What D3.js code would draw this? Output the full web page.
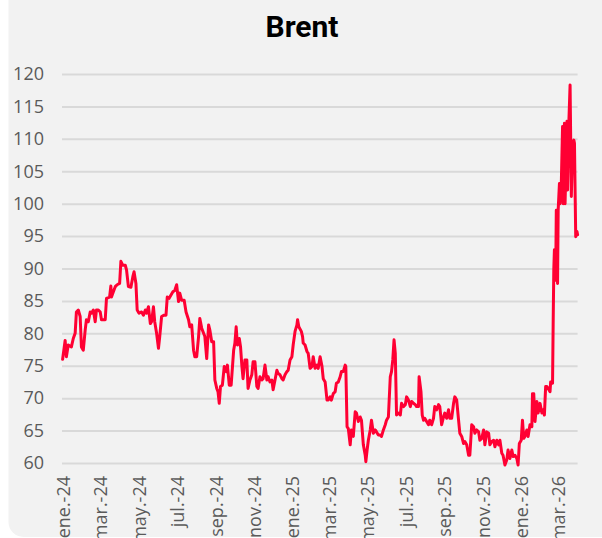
<!DOCTYPE html>
<html>
<head>
<meta charset="utf-8">
<script src="https://cdn.jsdelivr.net/npm/d3@7"></script>
<style>
  html, body { margin: 0; padding: 0; background: #ffffff; }
  svg { display: block; }
</style>
</head>
<body>
<svg id="chart" width="602" height="538"></svg>
<script>
// ---------- DATA ----------
const title = "Brent";

const dates = [
"2024-01-02","2024-01-06","2024-01-08","2024-01-11","2024-01-16","2024-01-19","2024-01-22","2024-01-24","2024-01-27","2024-01-30",
"2024-02-01","2024-02-04","2024-02-07","2024-02-09","2024-02-12","2024-02-15","2024-02-17","2024-02-20","2024-02-23","2024-02-25",
"2024-02-28","2024-03-02","2024-03-04","2024-03-07","2024-03-10","2024-03-12","2024-03-17","2024-03-19","2024-03-20","2024-03-23",
"2024-03-26","2024-03-29","2024-04-02","2024-04-04","2024-04-07","2024-04-11","2024-04-13","2024-04-16","2024-04-20","2024-04-23",
"2024-04-25","2024-04-28","2024-04-30","2024-05-03","2024-05-07","2024-05-10","2024-05-13","2024-05-15","2024-05-18","2024-05-21",
"2024-05-23","2024-05-26","2024-05-28","2024-05-31","2024-06-03","2024-06-05","2024-06-08","2024-06-12","2024-06-15","2024-06-17",
"2024-06-20","2024-06-23","2024-06-26","2024-06-29","2024-07-02","2024-07-05","2024-07-07","2024-07-10","2024-07-14","2024-07-17",
"2024-07-21","2024-07-23","2024-07-26","2024-07-29","2024-07-31","2024-08-03","2024-08-06","2024-08-08","2024-08-11","2024-08-14",
"2024-08-16","2024-08-19","2024-08-22","2024-08-24","2024-08-27","2024-08-30","2024-09-01","2024-09-04","2024-09-06","2024-09-08",
"2024-09-10","2024-09-13","2024-09-16","2024-09-19","2024-09-21","2024-09-24","2024-09-27","2024-10-01","2024-10-03","2024-10-05",
"2024-10-07","2024-10-10","2024-10-12","2024-10-14","2024-10-16","2024-10-19","2024-10-22","2024-10-24","2024-10-27","2024-10-30",
"2024-11-01","2024-11-04","2024-11-07","2024-11-09","2024-11-12","2024-11-15","2024-11-17","2024-11-20","2024-11-23","2024-11-25",
"2024-11-28","2024-12-01","2024-12-03","2024-12-06","2024-12-09","2024-12-11","2024-12-14","2024-12-17","2024-12-19","2024-12-22",
"2024-12-25","2024-12-27","2024-12-30","2025-01-02","2025-01-04","2025-01-07","2025-01-10","2025-01-11","2025-01-13","2025-01-17",
"2025-01-19","2025-01-20","2025-01-23","2025-01-26","2025-01-28","2025-01-31","2025-02-03","2025-02-05","2025-02-08","2025-02-11",
"2025-02-13","2025-02-16","2025-02-19","2025-02-21","2025-02-24","2025-02-27","2025-03-01","2025-03-04","2025-03-06","2025-03-09",
"2025-03-12","2025-03-14","2025-03-17","2025-03-20","2025-03-22","2025-03-25","2025-03-28","2025-03-29","2025-03-31","2025-04-02",
"2025-04-05","2025-04-07","2025-04-10","2025-04-13","2025-04-15","2025-04-18","2025-04-21","2025-04-23","2025-04-26","2025-04-29",
"2025-04-30","2025-05-02","2025-05-04","2025-05-07","2025-05-09","2025-05-12","2025-05-15","2025-05-17","2025-05-20","2025-05-23",
"2025-05-25","2025-05-28","2025-05-31","2025-06-02","2025-06-05","2025-06-08","2025-06-10","2025-06-12","2025-06-14","2025-06-16",
"2025-06-18","2025-06-21","2025-06-24","2025-06-26","2025-06-29","2025-07-02","2025-07-04","2025-07-07","2025-07-10","2025-07-12",
"2025-07-15","2025-07-18","2025-07-20","2025-07-23","2025-07-24","2025-07-27","2025-07-29","2025-07-31","2025-08-02","2025-08-05",
"2025-08-08","2025-08-10","2025-08-13","2025-08-16","2025-08-18","2025-08-21","2025-08-24","2025-08-26","2025-08-29","2025-09-01",
"2025-09-03","2025-09-06","2025-09-09","2025-09-11","2025-09-14","2025-09-17","2025-09-19","2025-09-22","2025-09-25","2025-09-27",
"2025-09-30","2025-10-03","2025-10-05","2025-10-08","2025-10-11","2025-10-13","2025-10-16","2025-10-19","2025-10-21","2025-10-24",
"2025-10-27","2025-10-29","2025-11-01","2025-11-04","2025-11-06","2025-11-09","2025-11-12","2025-11-14","2025-11-17","2025-11-20",
"2025-11-22","2025-11-25","2025-11-28","2025-11-30","2025-12-03","2025-12-05","2025-12-08","2025-12-11","2025-12-13","2025-12-16",
"2025-12-19","2025-12-21","2025-12-24","2025-12-27","2025-12-29","2025-12-31","2026-01-03","2026-01-05","2026-01-07","2026-01-09",
"2026-01-12","2026-01-14","2026-01-17","2026-01-20","2026-01-21","2026-01-23","2026-01-25","2026-01-28","2026-01-30","2026-02-02",
"2026-02-05","2026-02-07","2026-02-09","2026-02-11","2026-02-13","2026-02-15","2026-02-18","2026-02-19","2026-02-22","2026-02-23",
"2026-02-24","2026-02-25","2026-02-27","2026-02-28","2026-03-02","2026-03-03","2026-03-05","2026-03-06","2026-03-08","2026-03-10",
"2026-03-11","2026-03-13","2026-03-14","2026-03-17","2026-03-18","2026-03-20","2026-03-22","2026-03-24","2026-03-26","2026-03-28",
"2026-03-29","2026-03-31","2026-04-02","2026-04-03"
];

const brent = [
76.0,78.9,76.4,78.2,77.9,79.2,80.0,83.3,83.6,82.6,
77.9,77.4,80.5,82.1,81.8,83.3,83.1,83.6,81.8,83.6,
83.6,83.3,82.1,82.1,82.1,85.4,85.6,87.3,85.6,86.4,
87.2,87.5,87.7,91.1,90.5,90.5,89.8,87.2,87.1,88.7,
89.5,87.7,83.6,83.1,83.3,82.8,83.6,83.1,84.1,81.5,
81.8,84.1,81.8,80.0,77.7,79.5,82.6,82.8,82.8,85.6,
85.4,85.9,86.4,86.6,87.5,84.9,86.2,85.1,85.1,83.3,
82.1,81.0,81.3,77.4,76.4,76.4,79.5,82.3,80.8,80.0,
79.5,76.1,81.3,80.5,78.7,78.7,72.8,71.5,71.0,69.2,
71.8,72.0,74.9,74.1,75.1,72.0,72.0,77.4,78.5,81.0,
78.2,79.2,77.9,75.1,73.0,75.9,75.9,71.5,72.8,73.6,
75.6,75.6,71.8,71.5,73.3,72.8,73.0,75.1,72.8,73.3,
72.5,72.8,71.3,72.8,74.3,73.8,73.6,73.0,72.8,73.6,
74.1,74.3,75.9,76.4,78.2,80.3,81.3,82.1,81.0,80.3,
79.5,78.5,78.2,77.2,76.9,74.6,74.9,76.4,74.6,75.1,
74.6,76.4,74.9,73.0,72.5,69.7,69.7,70.2,69.7,70.7,
71.0,72.3,72.5,73.3,74.1,74.1,75.1,74.9,65.6,65.3,
62.8,65.1,64.1,67.9,67.7,66.4,67.1,66.6,62.8,61.2,
60.2,62.0,63.5,65.1,66.6,64.6,65.1,64.8,64.3,64.3,
64.1,65.1,65.9,66.6,67.1,73.3,74.1,75.9,79.0,76.9,
67.4,67.7,67.4,69.2,68.7,69.0,70.2,69.7,68.7,69.5,
69.2,69.0,68.7,68.7,73.3,71.0,67.4,66.6,66.9,66.4,
65.9,66.6,65.9,66.9,68.7,68.2,69.0,68.7,65.9,67.1,
67.7,66.9,68.2,66.9,66.9,69.2,70.2,69.7,66.6,64.6,
64.1,63.0,63.3,62.8,61.2,61.2,65.9,65.6,64.6,65.1,
64.8,63.5,63.8,65.1,62.8,64.8,64.6,62.8,63.3,63.5,
62.5,63.5,62.8,63.5,61.5,61.2,59.7,60.5,62.0,60.7,
62.0,61.0,61.2,60.7,59.7,63.0,63.5,66.6,63.8,64.1,
65.1,64.1,65.9,65.6,70.7,70.7,66.4,69.5,67.7,69.2,
67.7,68.2,67.4,71.8,71.8,71.5,71.0,72.5,72.3,81.5,
89.8,92.9,88.2,99.0,87.7,99.0,103.1,100.0,103.1,111.9,
100.0,112.4,100.0,112.7,102.1,112.4,118.3,101.1,109.3,109.8,
109.3,94.9,95.7,95.2
];

const tickDates = ["2024-01-01","2024-03-01","2024-05-01","2024-07-01","2024-09-01","2024-11-01",
                   "2025-01-01","2025-03-01","2025-05-01","2025-07-01","2025-09-01","2025-11-01",
                   "2026-01-01","2026-03-01"];
const tickLabels = ["ene.-24","mar.-24","may.-24","jul.-24","sep.-24","nov.-24",
                    "ene.-25","mar.-25","may.-25","jul.-25","sep.-25","nov.-25",
                    "ene.-26","mar.-26"];
const yTicks = [60,65,70,75,80,85,90,95,100,105,110,115,120];
const xStart = "2024-01-01", xEnd = "2026-04-03";

// ---------- CHART ----------
(function () {
const parse = d3.utcParse("%Y-%m-%d");
const data = dates.map((d, i) => ({ date: parse(d), value: brent[i] }));

const svg = d3.select("#chart");
const tickFont = "'Open Sans', 'Noto Sans', sans-serif";
const titleFont = "Roboto, 'Noto Sans', sans-serif";

// background panel
svg.append("rect")
  .attr("x", 8.5).attr("y", -30)
  .attr("width", 660).attr("height", 567)
  .attr("rx", 15).attr("ry", 15)
  .attr("fill", "#f2f2f2");

const mLeft = 62, mRight = 577.6, mTop = 74, mBottom = 463;

const x = d3.scaleUtc().domain([parse(xStart), parse(xEnd)]).range([mLeft, mRight]);
const y = d3.scaleLinear().domain([60, 120]).range([mBottom, mTop]);

// y axis + gridlines
const yAxis = d3.axisLeft(y)
  .tickValues(yTicks)
  .tickSize(-(mRight - mLeft))
  .tickPadding(18)
  .tickFormat(d3.format("d"));

const gy = svg.append("g").attr("transform", `translate(${mLeft},0)`).call(yAxis);
gy.select(".domain").remove();
gy.selectAll(".tick line").attr("stroke", "#d9d9d9").attr("stroke-width", 2);
gy.selectAll(".tick text")
  .attr("fill", "#5a5a5a")
  .style("font-family", tickFont)
  .style("font-size", "18px");

// x axis
const xAxis = d3.axisBottom(x)
  .tickValues(tickDates.map(parse))
  .tickSize(0)
  .tickFormat((d, i) => tickLabels[i]);

const gx = svg.append("g").attr("transform", `translate(0,${mBottom})`).call(xAxis);
gx.select(".domain").remove();
gx.selectAll(".tick text")
  .attr("fill", "#5a5a5a")
  .style("font-family", tickFont)
  .style("font-size", "18px")
  .attr("text-anchor", "end")
  .attr("x", 0).attr("y", 0)
  .attr("dy", "0.35em")
  .attr("transform", "translate(1,13) rotate(-90)");

// line
const line = d3.line()
  .x(d => x(d.date))
  .y(d => y(d.value));

svg.append("path")
  .datum(data)
  .attr("fill", "none")
  .attr("stroke", "#ff0033")
  .attr("stroke-width", 3)
  .attr("stroke-linejoin", "round")
  .attr("stroke-linecap", "round")
  .attr("d", line);

// title
svg.append("text")
  .attr("x", 302).attr("y", 37)
  .attr("text-anchor", "middle")
  .style("font-family", titleFont)
  .style("font-weight", "bold")
  .style("font-size", "30px")
  .attr("fill", "#000000")
  .text(title);
})();
</script>
</body>
</html>
